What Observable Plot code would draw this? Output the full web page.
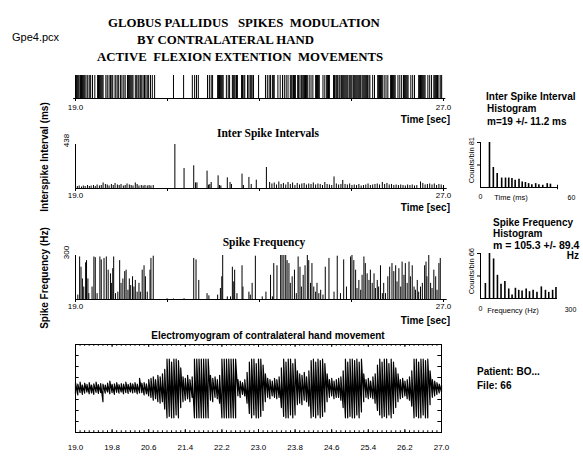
<!DOCTYPE html>
<html><head><meta charset="utf-8">
<script src="https://cdn.jsdelivr.net/npm/d3@7"></script>
<script src="https://cdn.jsdelivr.net/npm/@observablehq/plot@0.6"></script>
<style>
body{margin:0;background:#fff;}
#root{position:relative;width:583px;height:457px;overflow:hidden;background:#fff;font-family:"Liberation Sans",Arial,sans-serif;color:#000;}
.t{position:absolute;white-space:pre;line-height:1;}
.serif{font-family:"Liberation Serif","Times New Roman",serif;font-weight:bold;}
.b{font-weight:bold;}
</style></head><body><div id="root"></div>
<script>
// ---------- DATA ----------
const timeTicks = [19, 21, 23, 25, 27];
const emgTicks = [19.0, 19.8, 20.6, 21.4, 22.2, 23.0, 23.8, 24.6, 25.4, 26.2, 27.0];

const spikeTimes = [19.00,19.02,19.04,19.06,19.08,19.11,19.13,19.15,19.17,19.19,19.21,
19.25,19.27,19.31,19.33,19.37,19.42,
19.48,19.50,19.52,19.54,19.56,19.58,19.60,
19.66,19.69,19.73,19.76,19.79,19.81,19.86,19.88,19.92,19.94,19.98,20.01,20.05,20.08,
20.13,20.15,20.17,20.19,20.21,20.23,20.25,
20.30,20.33,20.36,20.38,20.41,20.44,20.47,20.50,20.53,20.56,20.59,
20.63,20.67,20.72,
21.13,21.35,21.54,21.59,21.63,21.67,
21.87,21.91,21.95,21.98,
22.09,22.11,22.13,22.15,22.17,22.19,22.21,
22.28,22.32,22.35,
22.41,22.43,22.45,22.47,22.50,22.52,
22.61,22.63,22.66,22.68,22.74,22.77,
22.80,22.82,22.84,22.87,22.98,
23.13,23.17,23.21,23.24,23.28,23.30,23.32,
23.40,23.45,23.50,23.54,23.58,23.62,
23.67,23.69,23.71,23.74,23.76,23.78,
23.83,23.85,23.88,23.91,23.93,
23.96,23.98,24.00,24.02,24.04,
24.08,24.12,24.16,
24.22,24.24,24.26,24.28,24.30,
24.38,24.42,24.46,24.48,24.50,24.52,
24.61,24.63,24.66,24.68,24.70,24.73,24.75,24.78,24.80,
24.82,24.84,24.86,24.88,24.90,24.92,24.95,24.97,24.99,25.01,
25.04,25.06,25.08,25.10,25.12,25.14,25.16,25.18,25.20,25.23,
25.25,25.27,25.29,25.31,25.33,25.35,25.38,25.40,
25.46,25.50,
25.57,25.59,25.61,25.63,25.65,25.67,
25.71,25.75,25.79,
25.85,25.87,25.89,25.91,25.93,25.95,
26.01,26.05,26.09,
26.13,26.15,26.17,26.19,26.21,26.23,
26.29,26.33,26.37,
26.46,26.48,26.50,26.52,26.54,26.56,26.58,26.60,
26.66,26.70,26.74,
26.79,26.81,26.83,26.85,26.87,
26.90,26.94,26.96];

const isiTime = [19.04,19.08,19.13,19.17,19.21,19.26,19.30,19.34,19.39,19.43,
19.47,19.52,19.56,19.60,19.65,19.69,19.73,19.78,19.82,19.86,
19.91,19.95,19.99,20.04,20.08,20.12,20.17,20.21,20.25,20.30,
20.34,20.38,20.43,20.47,20.51,20.56,20.60,20.64,20.69,
21.16,21.36,21.57,21.61,21.64,21.86,21.89,21.92,21.95,22.10,
22.13,22.16,22.30,22.36,22.39,22.62,22.65,22.77,22.82,22.93,23.15,
23.22,23.27,23.32,23.37,23.42,23.47,23.52,23.57,23.62,23.67,
23.72,23.77,23.82,23.87,23.92,23.97,24.02,24.07,24.12,24.17,
24.22,24.27,24.32,24.37,24.42,24.47,24.52,24.57,24.62,24.67,
24.72,24.77,24.81,24.86,24.91,24.96,25.01,25.06,25.11,25.16,
25.21,25.26,25.31,25.36,25.41,25.46,25.51,25.56,25.61,25.67,
25.72,25.77,25.82,25.87,25.92,25.97,26.02,26.07,26.12,26.17,
26.22,26.27,26.32,26.37,26.42,26.50,26.55,26.60,26.65,26.70,
26.75,26.80,26.85,26.90,26.95,27.00];
const isiMs = [20,25,15,25,20,30,20,25,30,20,
35,25,30,55,40,35,25,40,30,50,
35,30,40,25,30,45,35,30,25,55,
40,25,30,25,30,25,30,25,30,
438,199,226,56,56,173,33,40,60,126,
30,25,106,60,40,143,30,110,40,83,209,
60,45,55,35,65,40,50,35,60,40,
55,30,50,35,45,50,35,45,40,55,
35,45,40,30,60,40,35,30,115,45,
35,40,80,40,35,45,30,35,30,40,
25,30,35,45,30,35,40,45,35,60,
40,50,35,40,30,35,30,35,30,25,
35,30,35,25,30,65,50,35,40,45,
35,45,30,40,35,30];

const freqTime = [19.00,19.05,19.09,19.12,19.15,19.18,19.22,19.24,19.27,19.29,
19.36,19.40,19.43,19.47,19.53,19.56,19.62,19.67,19.71,19.76,
19.78,19.81,19.83,19.87,19.92,19.96,19.99,20.03,20.07,20.10,
20.14,20.17,20.20,20.24,20.27,20.30,20.34,20.38,20.41,20.45,
20.49,20.52,20.56,20.62,20.64,20.69,20.99,21.13,21.36,21.57,
21.62,21.68,21.86,21.90,22.09,22.15,22.18,22.20,22.30,22.37,
22.41,22.44,22.46,22.51,22.62,22.64,22.77,22.80,22.84,22.91,
23.06,23.14,23.24,23.28,23.31,23.38,23.46,23.49,23.53,23.57,
23.60,23.64,23.67,23.71,23.76,23.80,23.84,23.88,23.91,23.95,
23.99,24.04,24.07,24.11,24.14,24.18,24.22,24.25,24.29,24.33,
24.38,24.43,24.51,24.62,24.69,24.76,24.83,24.89,24.98,25.01,
25.05,25.09,25.12,25.16,25.20,25.23,25.27,25.30,25.34,25.38,
25.41,25.45,25.49,25.52,25.56,25.59,25.63,25.67,25.70,25.74,
25.79,25.83,25.88,25.92,25.96,25.99,26.03,26.07,26.10,26.14,
26.17,26.21,26.25,26.28,26.32,26.36,26.39,26.43,26.46,26.50,
26.54,26.59,26.62,26.64,26.68,26.72,26.75,26.79,26.83,26.86,
26.90,26.93];
const freqHz = [63,30,290,220,140,85,250,265,140,40,
85,290,285,40,290,270,280,290,200,175,
110,210,290,40,50,265,110,140,190,200,
63,140,95,155,85,130,50,110,50,200,
230,155,50,200,280,295,5,3,5,280,
270,130,40,25,30,75,155,300,18,18,
220,120,200,40,230,85,50,30,110,295,
18,50,165,18,245,230,300,300,300,300,
265,245,110,155,200,40,290,220,85,165,
230,300,265,110,245,85,50,110,40,63,
30,220,280,50,295,40,270,85,290,300,
265,200,75,130,63,165,290,245,175,130,
200,110,175,75,130,85,230,40,110,40,
155,220,245,190,230,120,210,85,255,165,
245,110,255,155,230,85,63,130,50,85,
110,230,255,155,300,110,75,200,155,63,
245,280];

const isiBinMs = [7,10,13,16.5,19.5,22,24.5,27,30,32.5,35,37.5,40,43,45.5,48.5,52,54.5];
const isiBinCount = [81,36,25,17,17,17,16,13,15,10,9,7,5,7,5,4,7,6];
const freqBinHz = [19,35,51,66,80,95,110,123,136,149,162,178,191,205,220,237,253,266,281,294];
const freqBinCount = [22,66,58,34,21,25,14,5,15,12,11,14,10,12,9,17,12,9,12,16];

// EMG: per-sample upper/lower excursion, one sample every 0.05 s from 19.00 s
const emgStart = 19.0, emgStep = 0.05;
const emgHi = [0.20,0.15,0.22,0.12,0.18,0.14,0.20,0.12,0.16,0.22,0.13,0.17,0.15,0.12,0.18,0.25,0.14,0.16,0.20,0.13,0.17,0.15,0.22,0.14,0.18,0.16,0.20,0.15,0.35,0.18,0.20,0.16,0.30,
0.35,0.40,0.30,0.45,0.40,0.50,
0.65,1.0,1.0,0.9,1.0,1.0,0.95,0.7,0.4,
0.35,0.45,0.30,0.40,
1.0,1.0,1.0,1.0,1.0,1.0,1.0,
0.45,0.35,0.40,0.30,0.45,
1.0,1.0,1.0,1.0,1.0,1.0,1.0,
0.30,0.25,0.20,0.30,
0.55,0.9,1.0,1.0,0.85,1.0,1.0,0.8,0.5,
0.35,0.30,0.25,0.35,0.30,0.40,
0.7,1.0,0.9,1.0,1.0,0.85,1.0,0.6,
0.5,0.45,0.55,0.4,
0.6,0.95,1.0,0.9,1.0,0.95,1.0,0.85,0.5,
0.30,0.35,0.25,0.30,0.35,0.40,
0.6,1.0,0.9,1.0,1.0,0.95,1.0,0.9,1.0,0.5,
0.30,0.35,0.25,0.40,
0.5,0.8,1.0,0.9,1.0,1.0,0.85,1.0,0.9,0.7,0.5,
0.30,0.35,0.25,0.30,0.40,
0.6,1.0,1.0,0.9,1.0,1.0,0.95,1.0,0.6,
0.30,0.25,0.20,0.15,0.12];
const emgLo = [-0.18,-0.22,-0.14,-0.20,-0.16,-0.12,-0.18,-0.15,-0.20,-0.13,-0.17,-0.14,-0.45,-0.16,-0.12,-0.18,-0.14,-0.20,-0.13,-0.16,-0.12,-0.18,-0.14,-0.17,-0.12,-0.15,-0.13,-0.18,-0.15,-0.14,-0.22,-0.18,-0.25,
-0.30,-0.40,-0.35,-0.45,-0.50,-0.45,
-0.7,-1.0,-0.95,-1.0,-1.0,-0.9,-1.0,-0.65,-0.45,
-0.40,-0.35,-0.45,-0.30,
-1.0,-1.0,-1.0,-1.0,-1.0,-1.0,-1.0,
-0.40,-0.45,-0.30,-0.35,-0.50,
-1.0,-1.0,-1.0,-1.0,-1.0,-1.0,-1.0,
-0.25,-0.30,-0.20,-0.25,
-0.5,-0.85,-1.0,-0.9,-1.0,-1.0,-0.95,-0.75,-0.45,
-0.30,-0.35,-0.25,-0.30,-0.35,-0.30,
-0.65,-0.95,-1.0,-1.0,-0.9,-1.0,-0.9,-0.55,
-0.5,-0.55,-0.4,-0.45,
-0.6,-1.0,-0.95,-1.0,-0.9,-1.0,-0.95,-0.8,-0.45,
-0.3,-0.25,-0.35,-0.3,-0.3,-0.4,
-0.65,-1.0,-1.0,-0.95,-1.0,-1.0,-0.9,-1.0,-0.8,-0.45,
-0.3,-0.35,-0.3,-0.35,
-0.5,-0.75,-0.9,-1.0,-0.95,-1.0,-0.9,-1.0,-0.85,-0.65,-0.45,
-0.35,-0.3,-0.25,-0.35,-0.4,
-0.6,-1.0,-0.95,-1.0,-1.0,-0.9,-1.0,-1.0,-0.55,
-0.3,-0.25,-0.2,-0.15,-0.12];

// ---------- LAYOUT ----------
const root = document.getElementById("root");
const SANS = '"Liberation Sans", Arial, sans-serif';
function place(svg, left, top) {
  svg.style.position = "absolute";
  svg.style.left = left + "px";
  svg.style.top = top + "px";
  svg.style.background = "transparent";
  svg.style.overflow = "visible";
  root.appendChild(svg);
}
function txt(s, x, y, size, opts = {}) {
  const d = document.createElement("div");
  d.className = "t " + (opts.cls || "");
  d.textContent = s;
  d.style.fontSize = size + "px";
  d.style.left = x + "px";
  d.style.top = y + "px";
  const ax = opts.anchor === "middle" ? "-50%" : opts.anchor === "end" ? "-100%" : "0";
  if (opts.rotate === "center") {
    d.style.transform = "translate(-50%,-50%) rotate(-90deg)";
  } else if (opts.rotate === "endTop") {
    d.style.transformOrigin = "0 0";
    d.style.transform = "rotate(-90deg) translate(-100%,-50%)";
  } else {
    d.style.transform = `translate(${ax},-50%)`;
  }
  root.appendChild(d);
}
const edgeFmt = d => (d === 19 || d === 27) ? d.toFixed(1) : "";

// Raster
place(Plot.plot({
  width: 583, height: 45, marginLeft: 75, marginRight: 140, marginTop: 5, marginBottom: 17,
  style: {fontSize: "8px", fontFamily: SANS},
  x: {domain: [19, 27], ticks: timeTicks, tickSize: 3, tickPadding: 3, tickFormat: edgeFmt, label: null},
  y: {domain: [0, 1], axis: null},
  marks: [
    Plot.ruleX(spikeTimes, {x: d => d, y1: 0, y2: 1, stroke: "#000", strokeWidth: 1}),
    Plot.ruleY([0], {x1: 18.96, x2: 27.05, stroke: "#000"})
  ]
}), 0, 70);

// ISI over time
place(Plot.plot({
  width: 583, height: 70, marginLeft: 75, marginRight: 140, marginTop: 14, marginBottom: 12,
  style: {fontSize: "8px", fontFamily: SANS},
  x: {domain: [19, 27], ticks: timeTicks, tickSize: 3, tickPadding: 1, tickFormat: edgeFmt, label: null},
  y: {domain: [0, 438], axis: null},
  marks: [
    Plot.ruleX(isiTime, {x: d => d, y1: 0, y2: (d, i) => isiMs[i], stroke: "#000", strokeWidth: 1}),
    Plot.ruleY([0], {x1: 19, x2: 27.08, stroke: "#000"}),
    Plot.ruleX([19], {y1: 0, y2: 438, stroke: "#000"}),
    Plot.text(["438"], {x: 19, y: 438, text: d => d, rotate: -90, dx: -9, dy: -4, fontSize: 8})
  ]
}), 0, 130);

// Spike frequency over time
place(Plot.plot({
  width: 583, height: 70, marginLeft: 75, marginRight: 140, marginTop: 15, marginBottom: 11,
  style: {fontSize: "8px", fontFamily: SANS},
  x: {domain: [19, 27], ticks: timeTicks, tickSize: 3, tickPadding: 1, tickFormat: edgeFmt, label: null},
  y: {domain: [0, 300], axis: null},
  marks: [
    Plot.ruleX(freqTime, {x: d => d, y1: 0, y2: (d, i) => freqHz[i], stroke: "#000", strokeWidth: 1}),
    Plot.ruleY([0], {x1: 19, x2: 27.08, stroke: "#000"}),
    Plot.ruleX([19], {y1: 0, y2: 300, stroke: "#000"}),
    Plot.text(["300"], {x: 19, y: 300, text: d => d, rotate: -90, dx: -9, dy: -3, fontSize: 8})
  ]
}), 0, 240);

// EMG (min/max per sample, drawn as a sawtooth trace)
const emgPoints = [];
emgHi.forEach((h, i) => {
  const t = emgStart + i * emgStep;
  emgPoints.push({t, v: emgLo[i]}, {t, v: h});
});
const emgYTicks = [-1.125, -0.75, -0.375, 0, 0.375, 0.75, 1.125];
const emgMinor = d3.range(0, 81).map(k => 19 + k * 0.1);
place(Plot.plot({
  width: 583, height: 127, marginLeft: 75, marginRight: 142, marginTop: 14, marginBottom: 25,
  style: {fontSize: "8px", fontFamily: SANS},
  x: {domain: [19, 27], ticks: emgTicks, tickSize: 0, tickPadding: 12, tickFormat: d => d.toFixed(1), label: null},
  y: {domain: [-1.5, 1.5], axis: null},
  marks: [
    Plot.line(emgPoints, {x: "t", y: "v", stroke: "#000", strokeWidth: 1.2}),
    Plot.ruleY(emgYTicks, {x1: 19, x2: 19.08, stroke: "#000"}),
    Plot.ruleY(emgYTicks, {x1: 26.92, x2: 27, stroke: "#000"}),
    Plot.ruleX(emgMinor, {y1: 1.5, y2: 1.44, stroke: "#000"}),
    Plot.ruleX(emgMinor, {y1: -1.5, y2: -1.44, stroke: "#000"}),
    Plot.ruleX(emgTicks, {y1: 1.5, y2: 1.4, stroke: "#000"}),
    Plot.ruleX(emgTicks, {y1: -1.5, y2: -1.4, stroke: "#000"}),
    Plot.frame({stroke: "#000"})
  ]
}), 0, 330);

// ISI histogram
place(Plot.plot({
  width: 110, height: 75, marginLeft: 10, marginRight: 23, marginTop: 12, marginBottom: 18,
  style: {fontSize: "7px", fontFamily: SANS},
  x: {domain: [0, 60], ticks: [0], tickSize: 0, tickPadding: 7, label: null},
  y: {domain: [0, 81], ticks: [40.5, 81], tickSize: 3, tickFormat: () => "", label: null},
  marks: [
    Plot.ruleX(isiBinMs, {x: d => d, y1: 0, y2: (d, i) => isiBinCount[i], stroke: "#000", strokeWidth: 1.6}),
    Plot.ruleY([0], {x1: 0, x2: 60, stroke: "#000"}),
    Plot.ruleX([0], {y1: 0, y2: 81, stroke: "#000"}),
    Plot.ruleX([60], {y1: -4, y2: 4, stroke: "#000"}),
    Plot.text([60], {x: d => d, y: 0, text: d => String(d), dx: 14, dy: 10, fontSize: 7})
  ]
}), 470, 130);

// Frequency histogram
place(Plot.plot({
  width: 110, height: 75, marginLeft: 10, marginRight: 23, marginTop: 13, marginBottom: 17,
  style: {fontSize: "7px", fontFamily: SANS},
  x: {domain: [0, 300], ticks: [0], tickSize: 0, tickPadding: 8, label: null},
  y: {domain: [0, 66], ticks: [33, 66], tickSize: 3, tickFormat: () => "", label: null},
  marks: [
    Plot.ruleX(freqBinHz, {x: d => d, y1: 0, y2: (d, i) => freqBinCount[i], stroke: "#000", strokeWidth: 1.6}),
    Plot.ruleY([0], {x1: 0, x2: 300, stroke: "#000"}),
    Plot.ruleX([0], {y1: 0, y2: 66, stroke: "#000"}),
    Plot.text([300], {x: d => d, y: 0, text: d => String(d), dx: 13, dy: 11, fontSize: 7})
  ]
}), 470, 240);

// ---------- TEXT ----------
txt("Gpe4.pcx", 12, 37, 11);
txt("GLOBUS PALLIDUS   SPIKES  MODULATION", 108, 23, 12.8, {cls: "serif"});
txt("BY CONTRALATERAL HAND", 137, 40, 12.8, {cls: "serif"});
txt("ACTIVE  FLEXION EXTENTION  MOVEMENTS", 97, 57, 12.8, {cls: "serif"});

txt("Time [sec]", 450, 120, 10, {cls: "b", anchor: "end"});
txt("Time [sec]", 450, 208, 10, {cls: "b", anchor: "end"});
txt("Time [sec]", 450, 321, 10, {cls: "b", anchor: "end"});

txt("Inter Spike Intervals", 268, 134, 11.5, {cls: "serif", anchor: "middle"});
txt("Spike Frequency", 264, 243, 11.5, {cls: "serif", anchor: "middle"});
txt("Interspike Interval (ms)", 45, 157, 10, {cls: "b", rotate: "center"});
txt("Spike Frequency (Hz)", 45, 278, 10, {cls: "b", rotate: "center"});
txt("Electromyogram of contralateral hand movement", 268, 336, 10, {cls: "b", anchor: "middle"});

txt("Inter Spike Interval", 486, 97, 10, {cls: "b"});
txt("Histogram", 487, 109, 10, {cls: "b"});
txt("m=19 +/- 11.2 ms", 487, 122, 10, {cls: "b"});
txt("Counts/bin 81", 472, 137, 7.5, {rotate: "endTop"});
txt("Time (ms)", 511, 198, 7.5, {anchor: "middle"});

txt("Spike Frequency", 493, 223, 10, {cls: "b"});
txt("Histogram", 493, 234, 10, {cls: "b"});
txt("m = 105.3 +/- 89.4", 493, 245, 10.5, {cls: "b"});
txt("Hz", 579, 256, 10, {cls: "b", anchor: "end"});
txt("Counts/bin 66", 472, 248, 7.5, {rotate: "endTop"});
txt("Frequency (Hz)", 513, 311, 7.5, {anchor: "middle"});

txt("Patient: BO...", 477, 372, 10, {cls: "b"});
txt("File: 66", 477, 386, 10, {cls: "b"});
</script></body></html>
